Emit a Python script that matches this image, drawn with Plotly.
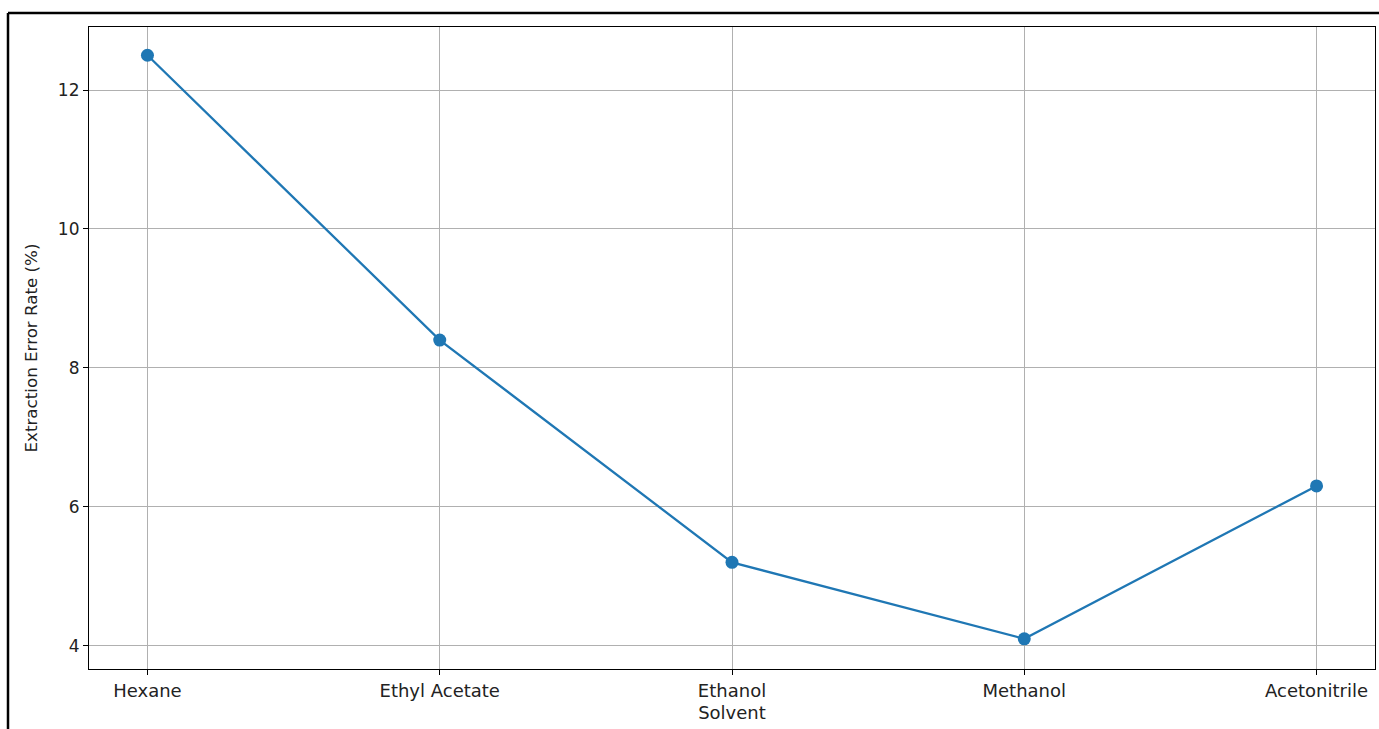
import plotly.graph_objects as go

solvents = ["Hexane", "Ethyl Acetate", "Ethanol", "Methanol", "Acetonitrile"]
error_rate = [12.5, 8.4, 5.2, 4.1, 6.3]
y_ticks = [4, 6, 8, 10, 12]

fig = go.Figure()
fig.add_trace(go.Scatter(
    x=list(range(len(solvents))), y=error_rate, mode="lines+markers",
    line=dict(color="#1f77b4", width=2.3),
    marker=dict(color="#1f77b4", size=13),
    showlegend=False,
))

fam = "DejaVu Sans"
txt = "#222222"
fig.update_layout(
    width=1379, height=729,
    margin=dict(l=89, r=4, t=27, b=60),
    paper_bgcolor="white", plot_bgcolor="white",
    font=dict(family=fam, size=17, color=txt),
    xaxis=dict(
        range=[-0.2, 4.2], tickmode="array", tickvals=list(range(len(solvents))),
        ticktext=solvents, showgrid=True, gridcolor="#b0b0b0", gridwidth=1.3,
        showline=True, linecolor="black", linewidth=1.2, mirror=True,
        ticks="outside", ticklen=5, tickcolor="black",
        tickfont=dict(family=fam, size=18, color=txt),
        title=dict(text="Solvent", standoff=6, font=dict(family=fam, size=18, color=txt)),
        zeroline=False,
    ),
    yaxis=dict(
        range=[3.665, 12.907], tickmode="array", tickvals=y_ticks,
        showgrid=True, gridcolor="#b0b0b0", gridwidth=1.3,
        showline=True, linecolor="black", linewidth=1.2, mirror=True,
        ticks="outside", ticklen=5, tickcolor="black",
        tickfont=dict(family=fam, size=17, color=txt),
        title=dict(text="Extraction Error Rate (%)", standoff=16,
                   font=dict(family=fam, size=16.7, color=txt)),
        zeroline=False,
    ),
    shapes=[
        dict(type="line", xref="paper", yref="paper",
             x0=(8 - 89) / 1286, x1=(1385 - 89) / 1286,
             y0=(669 - 13) / 642, y1=(669 - 13) / 642,
             line=dict(color="black", width=2.5)),
        dict(type="line", xref="paper", yref="paper",
             x0=(8 - 89) / 1286, x1=(8 - 89) / 1286,
             y0=(669 - 13) / 642, y1=(669 - 735) / 642,
             line=dict(color="black", width=2.5)),
    ],
)

fig.write_html(
    "out.html",
    config={"displayModeBar": False},
    post_script="document.body.style.margin='0';document.body.style.overflow='hidden';",
)
